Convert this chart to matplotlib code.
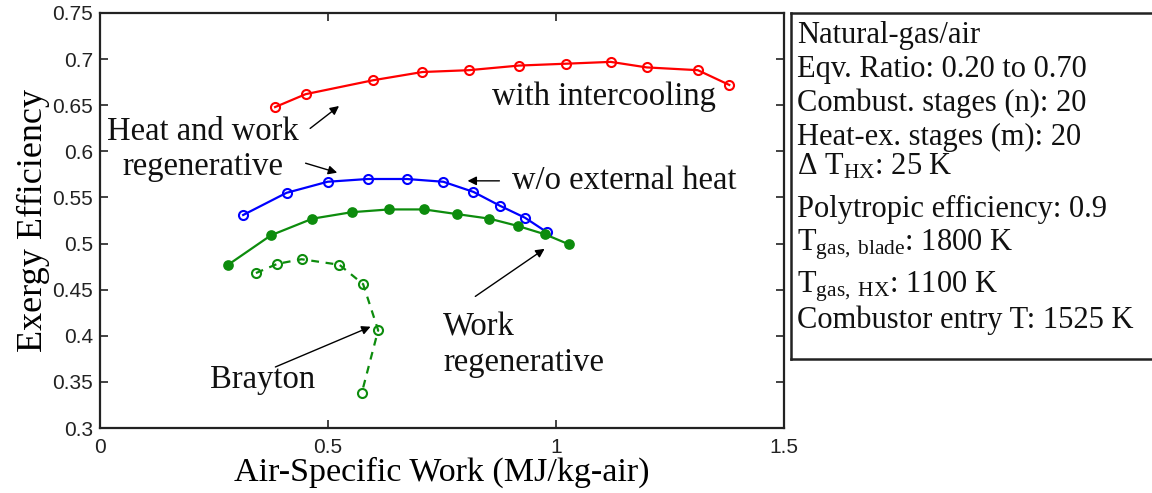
import numpy as np
import matplotlib.pyplot as plt

plt.rcParams['mathtext.fontset'] = 'custom'
plt.rcParams['mathtext.rm'] = 'Liberation Serif'
plt.rcParams['mathtext.it'] = 'Liberation Serif:italic'

# air-specific work (MJ/kg-air) vs exergy efficiency
intercool_w = [0.384, 0.451, 0.598, 0.707, 0.809, 0.919, 1.021, 1.120, 1.199, 1.311, 1.380]
intercool_eff = [0.648, 0.662, 0.677, 0.686, 0.688, 0.693, 0.695, 0.697, 0.691, 0.688, 0.672]

heatwork_w = [0.314, 0.409, 0.499, 0.587, 0.673, 0.753, 0.819, 0.877, 0.932, 0.981]
heatwork_eff = [0.531, 0.555, 0.567, 0.570, 0.570, 0.567, 0.556, 0.541, 0.528, 0.512]

workregen_w = [0.281, 0.375, 0.466, 0.552, 0.634, 0.711, 0.782, 0.854, 0.917, 0.976, 1.029]
workregen_eff = [0.477, 0.509, 0.527, 0.534, 0.537, 0.537, 0.532, 0.527, 0.519, 0.510, 0.499]

brayton_w = [0.342, 0.389, 0.442, 0.525, 0.577, 0.610, 0.574]
brayton_eff = [0.468, 0.478, 0.483, 0.477, 0.456, 0.406, 0.338]

xticks = [0, 0.5, 1, 1.5]
yticks = [0.3, 0.35, 0.4, 0.45, 0.5, 0.55, 0.6, 0.65, 0.7, 0.75]

info_lines = [
    'Natural-gas/air',
    'Eqv. Ratio: 0.20 to 0.70',
    'Combust. stages (n): 20',
    'Heat-ex. stages (m): 20',
    r'Δ T$_{\mathrm{HX}}$: 25 K',
    'Polytropic efficiency: 0.9',
    r'T$_{\mathrm{gas,\ blade}}$: 1800 K',
    r'T$_{\mathrm{gas,\ HX}}$: 1100 K',
    'Combustor entry T: 1525 K',
]
# baselines of the info lines, pixels from the top
info_base = [43, 77, 111, 145, 175, 217, 250, 292, 328]

GREEN = (0.05, 0.55, 0.05)
serif = 'Liberation Serif'

W, H = 1152, 493
fig = plt.figure(figsize=(W / 100, H / 100), dpi=100)
ax = fig.add_axes([100 / W, 1 - 428 / H, 684 / W, 415 / H])

ax.plot(intercool_w, intercool_eff, '-o', color='red', lw=1.6, ms=6.5,
        mfc='none', mew=1.5)
ax.plot(heatwork_w, heatwork_eff, '-o', color='blue', lw=1.6, ms=6.5,
        mfc='none', mew=1.5)
ax.plot(workregen_w, workregen_eff, '-o', color=GREEN, lw=1.6, ms=6.5,
        mfc=GREEN, mew=1.2)
ax.plot(brayton_w, brayton_eff, '--o', color=GREEN, lw=1.6, ms=6.5,
        mfc='none', mew=1.5, dashes=(3.5, 3))

ax.set_xlim(0, 1.5)
ax.set_ylim(0.3, 0.75)
ax.set_xticks(xticks)
ax.set_xticklabels(['0', '0.5', '1', '1.5'])
ax.set_yticks(yticks)
ax.set_yticklabels(['0.3', '0.35', '0.4', '0.45', '0.5', '0.55', '0.6', '0.65', '0.7', '0.75'])
ax.tick_params(direction='in', top=True, right=True, length=6, width=1.2,
               labelsize=15, colors='#222222', pad=5)
ax.tick_params(axis='x', pad=7)
for lab in ax.get_xticklabels() + ax.get_yticklabels():
    lab.set_family('Liberation Sans')
for sp in ax.spines.values():
    sp.set_linewidth(1.6)
    sp.set_color('#222222')

ax.set_xlabel('Air-Specific Work (MJ/kg-air)', family=serif, fontsize=24.5, labelpad=0)
ax.set_ylabel('Exergy Efficiency', family=serif, fontsize=26, labelpad=2)

# labels and arrows
txt = dict(family=serif, fontsize=23.5, color='#111111')
arw = dict(arrowstyle='-|>', color='black', lw=1.0, mutation_scale=13)

ax.text(0.86, 0.659, 'with intercooling', ha='left', va='center', **txt)
ax.text(0.226, 0.602, 'Heat and work\nregenerative', ha='center', va='center',
        multialignment='center', linespacing=1.2, **txt)
ax.annotate('', xy=(0.529, 0.651), xytext=(0.456, 0.623), arrowprops=arw)
ax.annotate('', xy=(0.526, 0.576), xytext=(0.445, 0.588), arrowprops=arw)

ax.text(0.904, 0.568, 'w/o external heat', ha='left', va='center', **txt)
ax.annotate('', xy=(0.800, 0.568), xytext=(0.882, 0.568), arrowprops=arw)

ax.text(0.752, 0.390, 'Work\nregenerative', ha='left', va='center',
        linespacing=1.2, **txt)
ax.annotate('', xy=(0.980, 0.496), xytext=(0.818, 0.441), arrowprops=arw)

ax.text(0.357, 0.352, 'Brayton', ha='center', va='center', **txt)
ax.annotate('', xy=(0.599, 0.411), xytext=(0.379, 0.365), arrowprops=arw)

# parameter box on the right
bx = fig.add_axes([791 / W, 1 - 359 / H, 0.35, 346 / H])
bx.set_xticks([])
bx.set_yticks([])
for sp in bx.spines.values():
    sp.set_linewidth(1.8)
    sp.set_color('#222222')

for line, py in zip(info_lines, info_base):
    fig.text(797 / W, 1 - py / H, line, ha='left', va='baseline',
             family=serif, fontsize=22, color='#111111')

fig.savefig('out.png', dpi=100)
